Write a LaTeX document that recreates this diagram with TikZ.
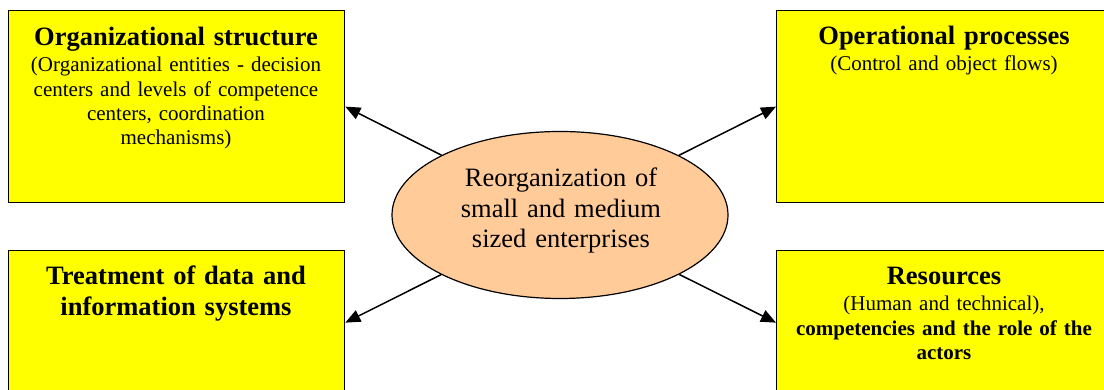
\documentclass[tikz,border=0pt]{standalone}
\usepackage{fontspec}
\setmainfont{Liberation Serif}
\usetikzlibrary{shapes.geometric,arrows.meta}
\definecolor{boxyellow}{HTML}{FFFF00}
\definecolor{peach}{HTML}{FFCC99}
\begin{document}
\begin{tikzpicture}[x=1pt,y=-1pt,
  box/.style={draw=black,line width=1.3pt,fill=boxyellow,minimum width=336pt,minimum height=#1,inner sep=0pt,anchor=north west},
  titletext/.style={anchor=base,text width=330pt,align=center,inner sep=0pt,font=\fontsize{26.5}{30.5}\selectfont\bfseries},
  bodytext/.style={anchor=base,text width=330pt,align=center,inner sep=0pt,font=\fontsize{21}{24.3}\selectfont},
  centertext/.style={anchor=base,text width=300pt,align=center,inner sep=0pt,font=\fontsize{26.5}{30.5}\selectfont},
  arr/.style={line width=1.5pt,-{Triangle[length=15pt,width=12.5pt]}}
]
\useasboundingbox (0,0) rectangle (1104,390);
\clip (0,0) rectangle (1104,390);

\node[box=192pt] (tl) at (8,10) {};
\node[box=192pt] (tr) at (776,10) {};
\node[box=144pt] (bl) at (8,250) {};
\node[box=144pt] (br) at (776,250) {};

\node[ellipse,draw=black,line width=1.2pt,fill=peach,minimum width=336pt,minimum height=167pt,inner sep=0pt] (e) at (560,215) {};

\node[titletext] (tlt) at (176,46) {Organizational structure};
\node[bodytext] (tlb) at (176,72) {(Organizational entities - decision\\centers and levels of competence\\centers, coordination\\mechanisms)};

\node[titletext] (trt) at (944,45) {Operational processes};
\node[bodytext] (trb) at (944,71) {(Control and object flows)};

\node[titletext] (blt) at (176,285) {Treatment of data and\\information systems};

\node[titletext] (brt) at (944,285) {Resources};
\node[bodytext] (brb) at (944,311) {(Human and technical),\\\textbf{competencies and the role of the}\\\textbf{actors}};

\node[centertext] (et) at (561,187) {Reorganization of\\small and medium\\sized enterprises};

\draw[arr] (e) -- (tl.east);
\draw[arr] (e) -- (tr.west);
\draw[arr] (e) -- (bl.east);
\draw[arr] (e) -- (br.west);
\end{tikzpicture}
\end{document}
